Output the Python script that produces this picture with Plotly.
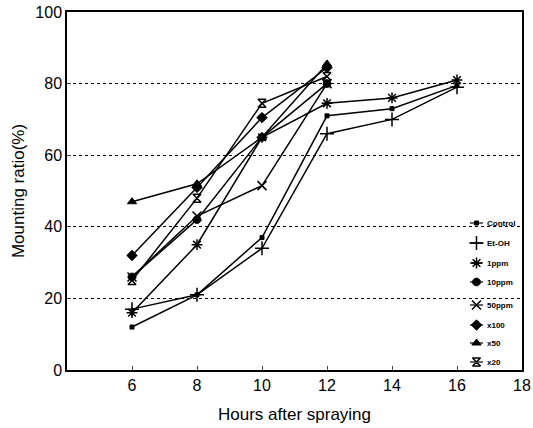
import plotly.graph_objects as go

hours_long = [6, 8, 10, 12, 14, 16]
hours_short = [6, 8, 10, 12]

series_names = ["Control", "Et-OH", "1ppm", "10ppm", "50ppm", "x100", "x50", "x20"]
control = [12, 21, 37, 71, 73, 79.5]
etoh = [17, 21, 34, 66, 70, 79]
ppm1 = [16, 35, 65, 74.5, 76, 81]
ppm10 = [26, 42, 65, 80]
ppm50 = [26, 43, 51.5, 80]
x100 = [32, 51, 70.5, 84.5]
x50 = [47, 52, 65, 85.5]
x20 = [25, 48, 74.5, 82]

x_ticks = [6, 8, 10, 12, 14, 16, 18]
y_ticks = [0, 20, 40, 60, 80, 100]

series = [
    (hours_long, control, "square", 4, 1),
    (hours_long, etoh, "cross-thin-open", 10, 1.5),
    (hours_long, ppm1, "asterisk-open", 9, 1.5),
    (hours_short, ppm10, "octagon", 8, 1),
    (hours_short, ppm50, "x-thin-open", 9, 1.5),
    (hours_short, x100, "diamond", 8, 1),
    (hours_short, x50, "triangle-up", 8, 1),
    (hours_short, x20, "hourglass-open", 8, 1.5),
]

W, H = 533, 428
L, R, T, B = 67, 11, 12, 58

fig = go.Figure()
for name, (xs, ys, sym, size, lw) in zip(series_names, series):
    fig.add_trace(go.Scatter(
        x=xs, y=ys, name=name, mode="lines+markers", showlegend=False,
        line=dict(color="black", width=1.5),
        marker=dict(symbol=sym, size=size, color="black",
                    line=dict(color="black", width=lw)),
    ))

# manual legend inside plot area (overlay axes in 0..1 plot fraction)
leg_rows_win = [223, 243, 263, 282, 305, 325, 343, 362]
for i, (name, (xs, ys, sym, size, lw)) in enumerate(zip(series_names, series)):
    fy = (370 - leg_rows_win[i]) / 358.0
    fx0 = (470 - 67) / 455.0
    fx1 = (483 - 67) / 455.0
    fxm = (476.5 - 67) / 455.0
    fig.add_trace(go.Scatter(
        x=[fx0, fx1], y=[fy, fy], mode="lines", xaxis="x2", yaxis="y2",
        line=dict(color="black", width=1.2), showlegend=False, hoverinfo="skip",
    ))
    fig.add_trace(go.Scatter(
        x=[fxm], y=[fy], mode="markers", xaxis="x2", yaxis="y2",
        marker=dict(symbol=sym, size=size, color="black",
                    line=dict(color="black", width=lw)),
        showlegend=False, hoverinfo="skip",
    ))
    fig.add_annotation(
        x=(485 - 67) / 455.0, y=fy, xref="x2", yref="y2", text="<b>%s</b>" % name,
        showarrow=False, xanchor="left", yanchor="middle",
        font=dict(size=8, family="Arial, Liberation Sans, sans-serif", color="black"),
    )

fig.update_layout(
    width=W, height=H,
    margin=dict(l=L, r=R, t=T, b=B, autoexpand=False),
    paper_bgcolor="white", plot_bgcolor="white",
    font=dict(family="Arial, Liberation Sans, sans-serif", color="black", size=16),
    showlegend=False,
    xaxis2=dict(range=[0, 1], overlaying="x", visible=False, showgrid=False),
    yaxis2=dict(range=[0, 1], overlaying="y", visible=False, showgrid=False),
    xaxis=dict(
        range=[4, 18], tickvals=x_ticks, ticks="inside", ticklen=4,
        tickfont=dict(size=16), ticklabeloverflow="allow", automargin=False,
        showline=True, linecolor="black", linewidth=1.5, mirror=True,
        showgrid=False, zeroline=False,
        title=dict(text="Hours after spraying", font=dict(size=17), standoff=15),
    ),
    yaxis=dict(
        range=[0, 100], tickvals=y_ticks, ticks="inside", ticklen=4,
        tickfont=dict(size=16), ticklabeloverflow="allow", automargin=False,
        showline=True, linecolor="black", linewidth=1.5, mirror=True,
        showgrid=True, gridcolor="black", gridwidth=1, griddash="dot",
        zeroline=False,
        title=dict(text="Mounting ratio(%)", font=dict(size=17), standoff=6),
    ),
)
fig.write_html(
    "out.html",
    config={"displayModeBar": False},
    post_script="document.body.style.margin='0';document.body.style.overflow='hidden';",
)
